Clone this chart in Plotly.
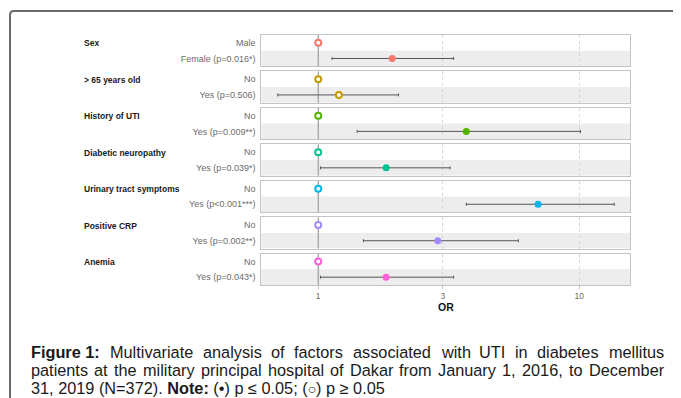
import plotly.graph_objects as go

# ---------------- data ----------------
groups = ["Sex", "> 65 years old", "History of UTI", "Diabetic neuropathy",
          "Urinary tract symptoms", "Positive CRP", "Anemia"]
ref_levels = ["Male", "No", "No", "No", "No", "No", "No"]
levels = ["Female (p=0.016*)", "Yes (p=0.506)", "Yes (p=0.009**)", "Yes (p=0.039*)",
          "Yes (p<0.001***)", "Yes (p=0.002**)", "Yes (p=0.043*)"]
odds = [1.92, 1.20, 3.69, 1.82, 6.95, 2.87, 1.82]
ci_low = [1.13, 0.70, 1.41, 1.02, 3.69, 1.49, 1.02]
ci_high = [3.30, 2.03, 10.1, 3.20, 13.6, 5.84, 3.30]
significant = [True, False, True, True, True, True, True]
ref_or = 1
x_ticks = [1, 3, 10]
x_ticklabels = ["1", "3", "10"]
colors = ["#F8766D", "#C49A00", "#53B400", "#00C094", "#00B6EB", "#A58AFF", "#FB61D7"]

caption_line1 = ["Figure 1:", "Multivariate", "analysis", "of", "factors",
                 "associated", "with", "UTI", "in", "diabetes", "mellitus"]
caption_line2 = ["patients", "at", "the", "military", "principal", "hospital", "of",
                 "Dakar", "from", "January", "1,", "2016,", "to", "December"]
caption_line3 = "31, 2019 (N=372). <b>Note:</b> (•) p ≤ 0.05; (<span style='font-size:14px'><b>○</b></span>) p ≥ 0.05"

# ---------------- layout constants ----------------
# page body has an 8px margin, so the figure is offset by (8, 8)
OX, OY = 8, 8
W, H = 673, 390
FONT = "Liberation Sans, Arial, sans-serif"
panel_left, panel_right = 261.3, 630.0
panel_top0, panel_step, panel_h = 35.0, 36.45, 31.3
xrange_log = [-0.218, 1.194]
CAP_SIZE = 16.3
CAP_LEFT, CAP_RIGHT = 29.0, 662.0


def px(x):
    return (x - OX) / W


def py(y):
    return 1 - (y - OY) / H


# approximate Arial advance widths (per 1000 em) to justify caption lines
_AW = dict(zip(" !(),.:;=0123456789",
               [278, 278, 333, 333, 278, 278, 278, 278, 584] + [556] * 10))
_AW.update(dict(zip("ABCDEFGHIJKLMNOPQRSTUVWXYZ",
                    [667, 667, 722, 722, 667, 611, 778, 722, 278, 500, 667, 556, 833,
                     722, 778, 667, 778, 722, 667, 611, 722, 667, 944, 667, 667, 611])))
_AW.update(dict(zip("abcdefghijklmnopqrstuvwxyz",
                    [556, 556, 500, 556, 556, 278, 556, 556, 222, 222, 500, 222, 833,
                     556, 556, 556, 556, 333, 500, 278, 556, 500, 722, 500, 500, 500])))
_BW = dict(_AW)
_BW.update({"i": 278, "g": 611, "u": 611, "r": 389, ":": 333, "F": 611})


def text_w(s, size, bold=False):
    t = _BW if bold else _AW
    return sum(t.get(c, 556) for c in s) * size / 1000.0


def justify(words, bold_first=False):
    widths = [text_w(w, CAP_SIZE, bold_first and j == 0) for j, w in enumerate(words)]
    gap = (CAP_RIGHT - CAP_LEFT - sum(widths)) / (len(words) - 1)
    xs, x = [], CAP_LEFT
    for wdt in widths:
        xs.append(x)
        x += wdt + gap
    return xs


fig = go.Figure()
shapes = []
annotations = []
n = len(groups)

for i in range(n):
    k = "" if i == 0 else str(i + 1)
    top = panel_top0 + i * panel_step
    bot = top + panel_h
    xa = dict(
        domain=[px(panel_left), px(panel_right)],
        type="log", range=xrange_log, anchor="y" + k,
        tickvals=x_ticks, ticktext=x_ticklabels,
        showgrid=True, gridcolor="#D6D6D6", griddash="3px,3px", gridwidth=1,
        zeroline=False, showline=True, mirror=True, linecolor="#C4C4C4", linewidth=1,
        showticklabels=(i == n - 1),
        ticks="outside" if i == n - 1 else "", ticklen=3, tickcolor="#C4C4C4",
        tickfont=dict(family=FONT, size=8.5, color="#6b6b6b"),
        fixedrange=True,
    )
    ya = dict(
        domain=[py(bot), py(top)], anchor="x" + k,
        range=[-0.5, 1.5], tickvals=[0, 1], ticktext=[levels[i], ref_levels[i]],
        showgrid=False, zeroline=False, showline=True, mirror=True,
        linecolor="#C4C4C4", linewidth=1, ticks="",
        ticklabelstandoff=3,
        tickfont=dict(family=FONT, size=9, color="#6b6b6b"),
        fixedrange=True,
    )
    fig.update_layout(**{"xaxis" + k: xa, "yaxis" + k: ya})

    # grey band for the lower row
    shapes.append(dict(type="rect", xref="x" + k + " domain", yref="y" + k,
                       x0=0, x1=1, y0=-0.5, y1=0.5, fillcolor="#EDEDED",
                       line=dict(width=0), layer="below"))

    # reference line at OR = 1
    fig.add_trace(go.Scatter(
        x=[ref_or, ref_or], y=[-0.5, 1.5], xaxis="x" + k, yaxis="y" + k, mode="lines",
        line=dict(color="#8f8f8f", width=1), showlegend=False, hoverinfo="skip"))

    # CI + point
    sig = significant[i]
    fig.add_trace(go.Scatter(
        x=[odds[i]], y=[0], xaxis="x" + k, yaxis="y" + k, mode="markers",
        marker=dict(size=7 if sig else 6, color=colors[i] if sig else "white",
                    line=dict(color=colors[i], width=0 if sig else 2)),
        error_x=dict(type="data", symmetric=False,
                     array=[ci_high[i] - odds[i]], arrayminus=[odds[i] - ci_low[i]],
                     color="#555555", thickness=1, width=1.5),
        showlegend=False, hoverinfo="skip"))
    # reference point
    fig.add_trace(go.Scatter(
        x=[ref_or], y=[1], xaxis="x" + k, yaxis="y" + k, mode="markers",
        marker=dict(size=6, color="white", line=dict(color=colors[i], width=2)),
        showlegend=False, hoverinfo="skip"))

    # group name
    annotations.append(dict(text="<b>" + groups[i] + "</b>", xref="paper", yref="paper",
                            x=px(82), y=py(top + panel_h * 0.27), xanchor="left",
                            yanchor="middle", showarrow=False,
                            font=dict(family=FONT, size=8.5, color="#1a1a1a")))

# x axis title
annotations.append(dict(text="<b>OR</b>", xref="paper", yref="paper",
                        x=px((panel_left + panel_right) / 2), y=py(306.5),
                        xanchor="center", yanchor="middle", showarrow=False,
                        font=dict(family=FONT, size=10.5, color="#111111")))

# caption: justified lines placed word by word
cap_font = dict(family=FONT, size=CAP_SIZE, color="#1a1a1a")
for words, yy, bold_first in ((caption_line1, 352, True), (caption_line2, 370, False)):
    xs = justify(words, bold_first)
    for j, (w, xx) in enumerate(zip(words, xs)):
        txt = "<b>" + w + "</b>" if (bold_first and j == 0) else w
        annotations.append(dict(text=txt, xref="paper", yref="paper", x=px(xx), y=py(yy),
                                xanchor="left", yanchor="middle", showarrow=False,
                                font=cap_font))
annotations.append(dict(
    text=caption_line3, xref="paper", yref="paper", x=px(CAP_LEFT), y=py(387.5),
    xanchor="left", yanchor="middle", showarrow=False, font=cap_font))

# frame (top and left rule with rounded corner)
shapes.append(dict(type="path", xref="paper", yref="paper",
                   path=f"M {px(10)},{py(400)} L {px(10)},{py(15)} Q {px(10)},{py(11)} {px(14)},{py(11)} L {px(682)},{py(11)}",
                   line=dict(color="#6a6a6a", width=2), layer="above"))

fig.update_layout(
    width=W, height=H, margin=dict(l=0, r=0, t=0, b=0),
    paper_bgcolor="white", plot_bgcolor="white",
    shapes=shapes, annotations=annotations, showlegend=False,
    font=dict(family=FONT),
)

fig.write_html("out.html")
